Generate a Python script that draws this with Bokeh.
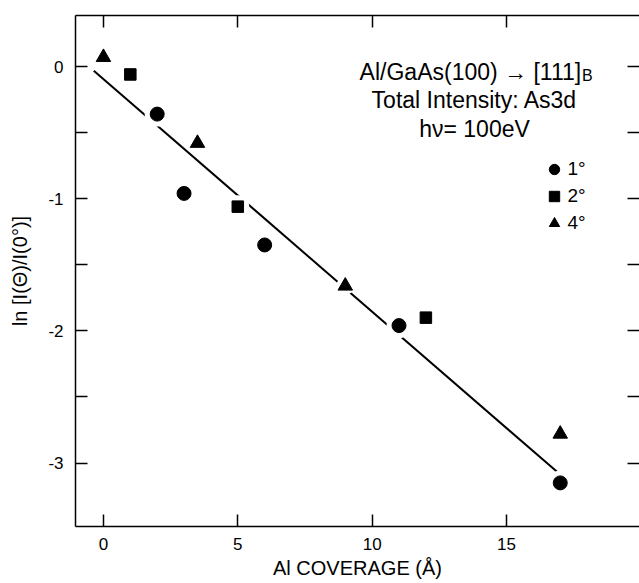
from bokeh.plotting import figure
from bokeh.models import FixedTicker, LinearAxis, Label, Legend, LegendItem
from bokeh.embed import file_html
from bokeh.resources import INLINE

# ---------------- data ----------------
X_1DEG = [2, 3, 6, 11, 17]
Y_1DEG = [-0.36, -0.96, -1.35, -1.96, -3.15]
X_2DEG = [1, 5, 12]
Y_2DEG = [-0.06, -1.06, -1.90]
X_4DEG = [0, 3.5, 9, 17]
Y_4DEG = [0.07, -0.58, -1.66, -2.78]

FIT_SLOPE = -0.176
FIT_INTERCEPT = -0.095
FIT_X = [-0.36, 17.0]

XTICKS = [0, 5, 10, 15]
YTICKS = [0, -1, -2, -3]
YMINOR = [-0.5, -1.5, -2.5]
YTICK_LABELS = ["0", "-1", "-2", "-3"]
SERIES_LABELS = ["1°", "2°", "4°"]

TITLE_1 = "Al/GaAs(100) → [111]"
TITLE_1_SUB = "B"
TITLE_2 = "Total Intensity: As3d"
TITLE_3 = "hν= 100eV"
X_LABEL = "Al COVERAGE (Å)"
Y_LABEL = "ln [I(Θ)/I(0°)]"

FONT = "Liberation Sans"

p = figure(width=639, height=583, x_range=(-1.04, 19.95), y_range=(-3.48, 0.386),
           output_backend="svg", toolbar_location=None,
           min_border_left=75, min_border_right=0, min_border_top=15, min_border_bottom=57,
           x_axis_label=X_LABEL, y_axis_label=Y_LABEL)
p.outline_line_color = None
p.xgrid.visible = False
p.ygrid.visible = False
p.background_fill_color = "white"
p.border_fill_color = "white"

# fitted line
fit_y = [FIT_INTERCEPT + FIT_SLOPE * x for x in FIT_X]
p.line(FIT_X, fit_y, line_color="black", line_width=2)

# white halos that break the line around the markers
p.scatter(X_1DEG, Y_1DEG, marker="circle", size=25, fill_color="white", line_color=None)
p.scatter(X_2DEG, Y_2DEG, marker="circle", size=23, fill_color="white", line_color=None)
p.scatter(X_4DEG, Y_4DEG, marker="circle", size=18, fill_color="white", line_color=None)

r1 = p.scatter(X_1DEG, Y_1DEG, marker="circle", size=14, color="black")
r2 = p.scatter(X_2DEG, Y_2DEG, marker="square", size=11.5, color="black")
r4 = p.scatter(X_4DEG, Y_4DEG, marker="triangle", size=14.5, color="black")

# axes
def style(ax):
    ax.axis_line_width = 1.5
    ax.axis_line_color = "black"
    ax.major_tick_line_width = 1.5
    ax.minor_tick_line_width = 1.5
    ax.major_tick_in = 12
    ax.major_tick_out = 0
    ax.minor_tick_out = 0
    ax.major_label_text_font = FONT
    ax.major_label_text_font_size = "17px"
    ax.major_label_text_color = "black"
    ax.axis_label_text_font = FONT
    ax.axis_label_text_font_style = "normal"
    ax.axis_label_text_color = "black"

xa = p.xaxis[0]
xa.ticker = FixedTicker(ticks=XTICKS, minor_ticks=[])
style(xa)
xa.minor_tick_in = 0
xa.major_label_standoff = 11
xa.axis_label_standoff = 4
xa.axis_label_text_font_size = "20px"

ya = p.yaxis[0]
ya.ticker = FixedTicker(ticks=YTICKS, minor_ticks=YMINOR)
ya.major_label_overrides = dict(zip(YTICKS, YTICK_LABELS))
style(ya)
ya.minor_tick_in = 12
ya.major_label_standoff = 12
ya.axis_label_standoff = 14
ya.axis_label_text_font_size = "20px"

top = LinearAxis(ticker=FixedTicker(ticks=XTICKS, minor_ticks=[]))
style(top)
top.minor_tick_in = 0
top.major_label_overrides = {t: "" for t in XTICKS}
top.major_label_standoff = 0
p.add_layout(top, "above")

right = LinearAxis(ticker=FixedTicker(ticks=YTICKS, minor_ticks=YMINOR))
style(right)
right.axis_line_color = None
right.minor_tick_in = 12
right.major_label_overrides = {t: "" for t in YTICKS}
right.major_label_standoff = 0
p.add_layout(right, "right")

# title block
for txt, yy in [(TITLE_2, -0.255), (TITLE_3, -0.469)]:
    p.add_layout(Label(x=13.81, y=yy, text=txt, text_align="center", text_baseline="alphabetic",
                       text_font=FONT, text_font_size="23px", text_color="black"))
p.add_layout(Label(x=17.78, y=-0.040, text=TITLE_1, text_align="right", text_baseline="alphabetic",
                   text_font=FONT, text_font_size="23px", text_color="black"))
p.add_layout(Label(x=17.81, y=-0.068, text=TITLE_1_SUB, text_align="left", text_baseline="alphabetic",
                   text_font=FONT, text_font_size="16px", text_color="black"))

# legend
legend = Legend(items=[LegendItem(label=lbl, renderers=[r]) for lbl, r in zip(SERIES_LABELS, [r1, r2, r4])],
                location=(465.5, 290.0), padding=0, margin=0, spacing=1,
                glyph_width=26, glyph_height=26, label_standoff=1, label_height=20,
                label_text_font=FONT, label_text_font_size="19px", label_text_color="black",
                border_line_color=None, background_fill_alpha=0)
p.add_layout(legend)

open("out.html", "w", encoding="utf-8").write(file_html(p, INLINE))
